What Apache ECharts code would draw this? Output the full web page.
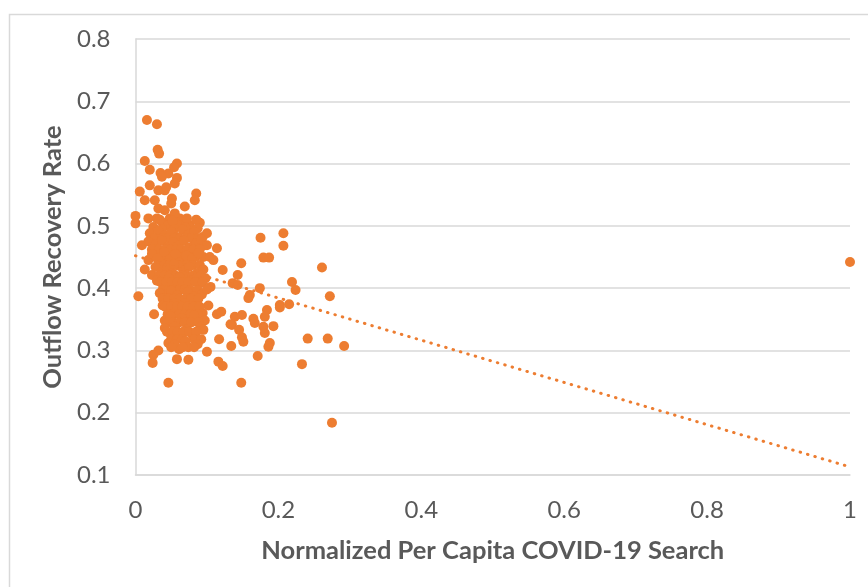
<!DOCTYPE html>
<html>
<head>
<meta charset="utf-8">
<script src="https://cdn.jsdelivr.net/npm/echarts@6/dist/echarts.min.js"></script>
<style>
html,body{margin:0;padding:0;background:#fff;}
#chart{width:868px;height:587px;}
</style>
</head>
<body>
<div id="chart"></div>
<script>
// Axis ticks
const xTicks = [0, 0.2, 0.4, 0.6, 0.8, 1];
const yTicks = [0.1, 0.2, 0.3, 0.4, 0.5, 0.6, 0.7, 0.8];

// Scatter points: [normalized per capita COVID-19 search, outflow recovery rate]
const points = [
  [0.016,0.670],[0.030,0.663],[0.031,0.622],[0.033,0.616],[0.013,0.604],[0.058,0.600],[0.054,0.594],
  [0.020,0.590],[0.035,0.585],[0.046,0.584],[0.037,0.579],[0.058,0.577],[0.055,0.568],[0.020,0.565],
  [0.032,0.557],[0.041,0.557],[0.006,0.555],[0.043,0.562],[0.085,0.552],[0.051,0.544],[0.013,0.541],
  [0.027,0.541],[0.083,0.541],[0.032,0.528],[0.041,0.525],[0.069,0.531],[0.050,0.536],
  [0.000,0.516],[0.000,0.504],[0.018,0.512],[0.030,0.512],[0.048,0.512],[0.062,0.512],[0.076,0.501],
  [0.055,0.520],[0.038,0.505],[0.068,0.508],[0.090,0.505],[0.025,0.498],[0.045,0.500],[0.058,0.503],
  [0.034,0.510],[0.052,0.508],[0.072,0.512],[0.085,0.510],
  [0.037,0.495],[0.054,0.495],[0.070,0.497],[0.087,0.496],
  [0.020,0.488],[0.032,0.492],[0.041,0.485],[0.050,0.490],[0.058,0.482],[0.066,0.494],[0.074,0.486],
  [0.082,0.490],[0.094,0.482],[0.100,0.488],
  [0.026,0.480],[0.037,0.480],[0.046,0.480],[0.054,0.480],[0.062,0.480],[0.070,0.480],[0.078,0.480],[0.088,0.480],
  [0.009,0.469],[0.018,0.475],[0.028,0.470],[0.037,0.476],[0.045,0.466],[0.053,0.474],[0.060,0.468],
  [0.068,0.476],[0.076,0.465],[0.085,0.472],[0.092,0.478],[0.097,0.469],[0.114,0.464],[0.100,0.469],
  [0.023,0.462],[0.033,0.462],[0.041,0.462],[0.049,0.462],[0.057,0.462],[0.064,0.462],[0.072,0.462],[0.081,0.462],[0.090,0.462],
  [0.027,0.450],[0.036,0.450],[0.044,0.450],[0.052,0.450],[0.060,0.450],[0.067,0.450],[0.075,0.450],[0.084,0.450],[0.095,0.450],
  [0.018,0.445],[0.023,0.455],[0.031,0.448],[0.040,0.458],[0.048,0.446],[0.056,0.455],[0.063,0.442],
  [0.071,0.452],[0.079,0.447],[0.088,0.456],[0.104,0.450],[0.109,0.445],[0.044,0.440],
  [0.032,0.437],[0.040,0.437],[0.048,0.437],[0.064,0.437],[0.071,0.437],[0.080,0.437],[0.090,0.437],
  [0.013,0.430],[0.023,0.421],[0.028,0.434],[0.036,0.426],[0.044,0.432],[0.052,0.424],[0.060,0.436],
  [0.067,0.428],[0.075,0.434],[0.086,0.424],[0.095,0.430],[0.122,0.429],[0.054,0.438],
  [0.033,0.420],[0.041,0.420],[0.048,0.420],[0.056,0.420],[0.064,0.420],[0.071,0.420],[0.080,0.420],[0.091,0.420],
  [0.030,0.412],[0.039,0.404],[0.047,0.416],[0.055,0.407],[0.062,0.418],[0.070,0.402],[0.078,0.412],
  [0.090,0.408],[0.098,0.416],[0.105,0.402],
  [0.035,0.410],[0.043,0.410],[0.051,0.410],[0.059,0.410],[0.066,0.410],[0.074,0.410],[0.084,0.410],[0.094,0.410],
  [0.038,0.397],[0.046,0.397],[0.054,0.397],[0.062,0.397],[0.069,0.397],[0.077,0.397],[0.087,0.397],
  [0.004,0.387],[0.034,0.392],[0.042,0.384],[0.050,0.396],[0.058,0.388],[0.065,0.380],[0.073,0.394],
  [0.081,0.386],[0.093,0.390],[0.100,0.398],
  [0.038,0.383],[0.046,0.383],[0.054,0.383],[0.062,0.383],[0.070,0.383],[0.078,0.383],[0.088,0.383],
  [0.038,0.372],[0.046,0.365],[0.054,0.376],[0.061,0.368],[0.069,0.375],[0.077,0.362],[0.085,0.370],
  [0.094,0.360],[0.102,0.372],[0.114,0.358],[0.026,0.358],
  [0.042,0.370],[0.050,0.370],[0.058,0.370],[0.065,0.370],[0.073,0.370],[0.081,0.370],[0.090,0.370],
  [0.045,0.358],[0.053,0.358],[0.061,0.358],[0.069,0.358],[0.077,0.358],[0.087,0.358],
  [0.041,0.348],[0.049,0.355],[0.057,0.343],[0.065,0.352],[0.073,0.345],[0.082,0.356],[0.097,0.348],
  [0.120,0.362],[0.135,0.341],
  [0.045,0.345],[0.053,0.345],[0.061,0.345],[0.069,0.345],[0.078,0.345],[0.088,0.345],
  [0.041,0.336],[0.048,0.328],[0.055,0.338],[0.063,0.322],[0.071,0.333],[0.080,0.325],[0.091,0.338],
  [0.095,0.333],[0.117,0.318],
  [0.044,0.330],[0.052,0.330],[0.059,0.330],[0.067,0.330],[0.075,0.330],[0.085,0.330],
  [0.050,0.318],[0.058,0.318],[0.066,0.318],[0.082,0.318],[0.092,0.318],
  [0.046,0.312],[0.055,0.309],[0.061,0.302],[0.070,0.315],[0.074,0.305],[0.087,0.310],[0.100,0.298],
  [0.134,0.307],[0.032,0.300],
  [0.050,0.305],[0.066,0.305],[0.082,0.305],
  [0.025,0.293],[0.024,0.280],[0.058,0.286],[0.074,0.285],[0.116,0.282],[0.122,0.275],
  [0.046,0.248],
  [0.175,0.481],[0.207,0.488],[0.207,0.468],[0.179,0.449],[0.187,0.449],[0.148,0.440],[0.261,0.433],
  [0.143,0.421],[0.136,0.408],[0.143,0.405],[0.219,0.410],[0.224,0.397],[0.174,0.400],[0.272,0.387],
  [0.160,0.389],[0.158,0.384],[0.202,0.373],[0.202,0.369],[0.215,0.374],[0.184,0.365],
  [0.139,0.354],[0.149,0.357],[0.165,0.351],[0.167,0.344],[0.181,0.354],[0.133,0.342],[0.179,0.338],
  [0.193,0.339],[0.145,0.333],[0.181,0.328],[0.149,0.321],[0.151,0.314],[0.241,0.319],[0.269,0.319],
  [0.292,0.307],[0.188,0.312],[0.186,0.306],[0.171,0.291],[0.233,0.278],[0.148,0.248],[0.275,0.184],
  [1.000,0.442]
];

// Linear trendline endpoints
const trendX = [0, 1];
const trendY = [0.452, 0.113];

const FONT = 'Lato, "Open Sans", sans-serif';
const GRAY = '#595959';
const ORANGE = '#ED7D31';

const chart = echarts.init(document.getElementById('chart'));
chart.setOption({
  animation: false,
  backgroundColor: '#fff',
  graphic: [{
    type: 'rect',
    shape: { x: 9.5, y: 14.5, width: 880, height: 600 },
    style: { fill: 'none', stroke: '#d9d9d9', lineWidth: 1.5 },
    silent: true
  }],
  grid: { left: 135.5, right: 18, top: 39, bottom: 112, containLabel: false },
  xAxis: {
    type: 'value',
    min: xTicks[0], max: xTicks[xTicks.length - 1], interval: 0.2,
    name: 'Normalized Per Capita COVID-19 Search',
    nameLocation: 'middle', nameGap: 63,
    nameTextStyle: { fontFamily: FONT, fontSize: 25.5, fontWeight: 'bold', color: GRAY },
    axisLine: { show: true, lineStyle: { color: '#d9d9d9', width: 1.5 } },
    axisTick: { show: false },
    splitLine: { show: false },
    axisLabel: {
      fontFamily: FONT, fontSize: 24, color: GRAY, margin: 23,
      formatter: v => String(parseFloat(v.toFixed(1)))
    }
  },
  yAxis: {
    type: 'value',
    min: yTicks[0], max: yTicks[yTicks.length - 1], interval: 0.1,
    name: 'Outflow Recovery Rate',
    nameLocation: 'middle', nameGap: 70, nameRotate: 90,
    nameTextStyle: { fontFamily: FONT, fontSize: 25.5, fontWeight: 'bold', color: GRAY },
    axisLine: { show: true, lineStyle: { color: '#d9d9d9', width: 1.5 } },
    axisTick: { show: false },
    splitLine: { show: true, lineStyle: { color: '#d9d9d9', width: 1.5 } },
    axisLabel: {
      fontFamily: FONT, fontSize: 24, color: GRAY, margin: 25,
      formatter: v => v.toFixed(1)
    }
  },
  series: [
    {
      type: 'scatter',
      data: points,
      symbol: 'circle',
      symbolSize: 10,
      itemStyle: { color: ORANGE, opacity: 1 },
      z: 2
    },
    {
      type: 'line',
      data: trendX.map((x, i) => [x, trendY[i]]),
      showSymbol: false,
      symbol: 'none',
      lineStyle: { color: ORANGE, width: 3, type: [0.5, 7.2], cap: 'round' },
      z: 3
    }
  ]
});
</script>
</body>
</html>
